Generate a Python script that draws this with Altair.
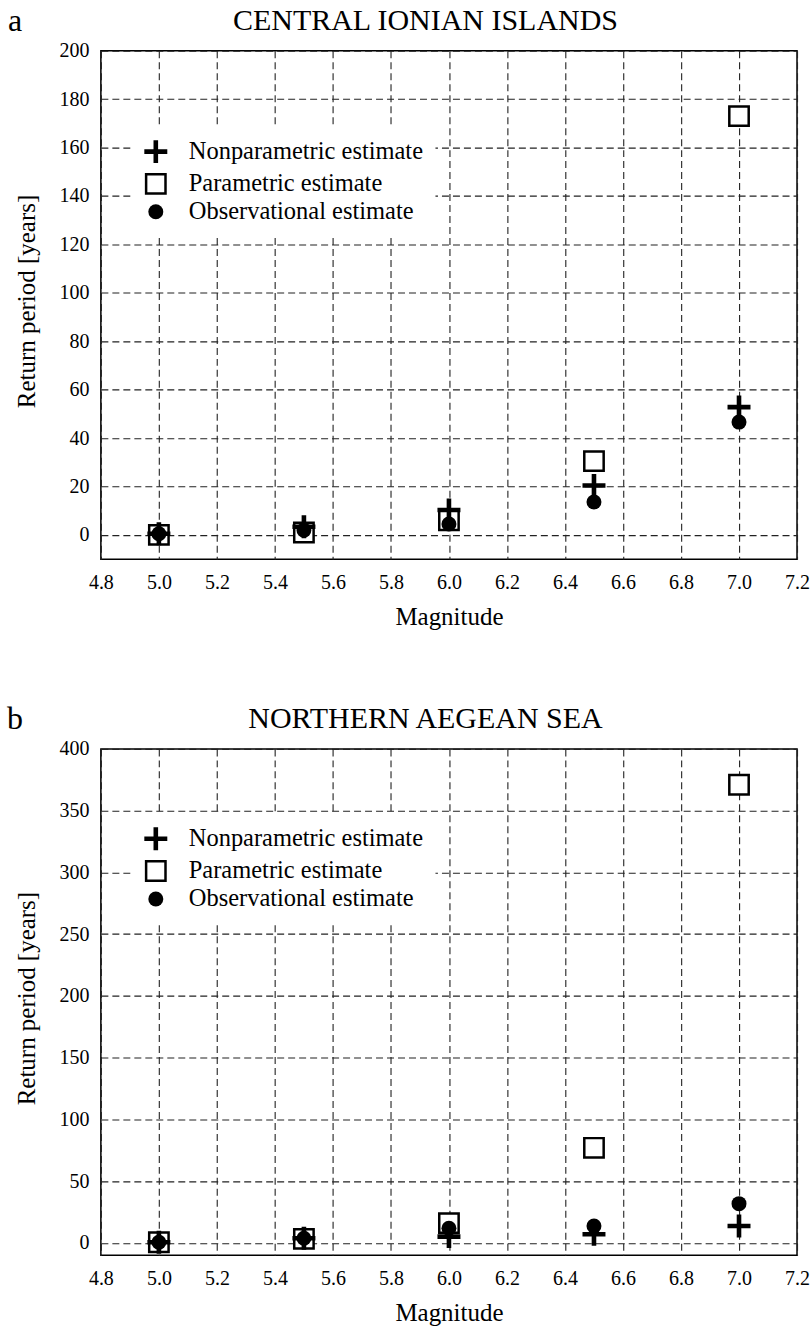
import altair as alt
import pandas as pd

magnitudes = [5.0, 5.5, 6.0, 6.5, 7.0]
series_names = ["Nonparametric estimate", "Parametric estimate", "Observational estimate"]

a_nonparametric = [0.5, 3.4, 10.3, 20.4, 52.8]
a_parametric = [0.0, 1.0, 6.0, 30.5, 173.0]
a_observational = [0.5, 2.0, 4.5, 13.6, 46.6]

b_nonparametric = [0.5, 3.8, 5.1, 7.0, 13.7]
b_parametric = [0.5, 3.3, 16.0, 77.0, 371.0]
b_observational = [0.5, 3.8, 11.8, 13.7, 31.8]

x_ticks = [4.8, 5.0, 5.2, 5.4, 5.6, 5.8, 6.0, 6.2, 6.4, 6.6, 6.8, 7.0, 7.2]
a_y_ticks = [0, 20, 40, 60, 80, 100, 120, 140, 160, 180, 200]
b_y_ticks = [0, 50, 100, 150, 200, 250, 300, 350, 400]

FONT = "Liberation Serif"
CROSS = "M-1,-0.2H-0.2V-1H0.2V-0.2H1V0.2H0.2V1H-0.2V0.2H-1Z"


def make_df(nonpar, par, obs):
    rows = []
    # parametric first so that the other markers are drawn on top of the squares
    for name, vals in [(series_names[1], par), (series_names[0], nonpar), (series_names[2], obs)]:
        for m, v in zip(magnitudes, vals):
            rows.append({"Magnitude": m, "Return": v, "Series": name})
    return pd.DataFrame(rows)


def panel(df, letter, title, ymax, yticks, height, legend_y):
    legend = alt.Legend(
        orient="none", legendX=30, legendY=legend_y, title=None,
        fillColor="white", padding=12, labelFont=FONT, labelFontSize=24.5,
        labelColor="black", labelOffset=20, rowPadding=0, labelLimit=600,
        labelExpr="datum.label + '      '",
        symbolStrokeWidth=2.5, symbolOpacity=1,
    )
    points = alt.Chart(df).mark_point(filled=True, opacity=1, strokeWidth=2.5).encode(
        x=alt.X("Magnitude:Q",
                scale=alt.Scale(domain=[4.8, 7.2], nice=False, zero=False),
                axis=alt.Axis(values=x_ticks, format=".1f", title="Magnitude",
                              labelFont=FONT, labelFontSize=20, labelColor="black",
                              titleFont=FONT, titleFontSize=25, titleFontWeight="normal",
                              titleColor="black",
                              labelFlush=False, labelOverlap=False, labelPadding=13,
                              titlePadding=12)),
        y=alt.Y("Return:Q",
                scale=alt.Scale(domain=[-10, ymax], nice=False, zero=False),
                axis=alt.Axis(values=yticks, title="Return period [years]",
                              labelFont=FONT, labelFontSize=20, labelColor="black",
                              titleFont=FONT, titleFontSize=25, titleFontWeight="normal",
                              titleColor="black",
                              labelFlush=False, labelOverlap=False, labelPadding=12,
                              titleX=-74, titleY=height / 2 - 4, titleAngle=270,
                              titleAlign="center", titleBaseline="middle")),
        shape=alt.Shape("Series:N", scale=alt.Scale(domain=series_names, range=[CROSS, "square", "circle"]), legend=legend),
        fill=alt.Fill("Series:N", scale=alt.Scale(domain=series_names, range=["black", "white", "black"]), legend=legend),
        stroke=alt.Stroke("Series:N", scale=alt.Scale(domain=series_names, range=["transparent", "black", "transparent"]), legend=legend),
        size=alt.Size("Series:N", scale=alt.Scale(domain=series_names, range=[529, 225, 121]), legend=legend),
    )
    letter_text = alt.Chart(pd.DataFrame({"t": [letter]})).mark_text(
        font=FONT, fontSize=32, align="center", baseline="alphabetic", color="black"
    ).encode(x=alt.value(-86), y=alt.value(-20), text="t:N")
    title_text = alt.Chart(pd.DataFrame({"t": [title]})).mark_text(
        font=FONT, fontSize=30, align="center", baseline="alphabetic", color="black"
    ).encode(x=alt.value(325), y=alt.value(-21), text="t:N")
    return alt.layer(points, letter_text, title_text).properties(width=697, height=height)


panel_a = panel(make_df(a_nonparametric, a_parametric, a_observational), "a",
                "CENTRAL IONIAN ISLANDS", 200, a_y_ticks, 509, 76)
panel_b = panel(make_df(b_nonparametric, b_parametric, b_observational), "b",
                "NORTHERN AEGEAN SEA", 400, b_y_ticks, 507, 65)

chart = alt.vconcat(panel_a, panel_b, spacing=190, bounds="flush").resolve_scale(
    x="independent", y="independent", shape="independent", fill="independent",
    stroke="independent", size="independent"
).resolve_legend(
    shape="independent", fill="independent", stroke="independent", size="independent"
).configure(
    padding={"left": 6, "top": 3, "right": 0, "bottom": 0},
    background="white",
).configure_view(
    stroke="black", strokeWidth=1.5
).configure_axis(
    labelFont=FONT, labelFontSize=20, labelColor="black",
    titleFont=FONT, titleFontSize=25, titleFontWeight="normal", titleColor="black",
    grid=True, gridColor="#222222", gridDash=[7, 4], gridWidth=1.1, gridOpacity=1,
    ticks=False, domain=False,
)

chart.save("out.html", embed_options={"renderer": "svg", "actions": False})
